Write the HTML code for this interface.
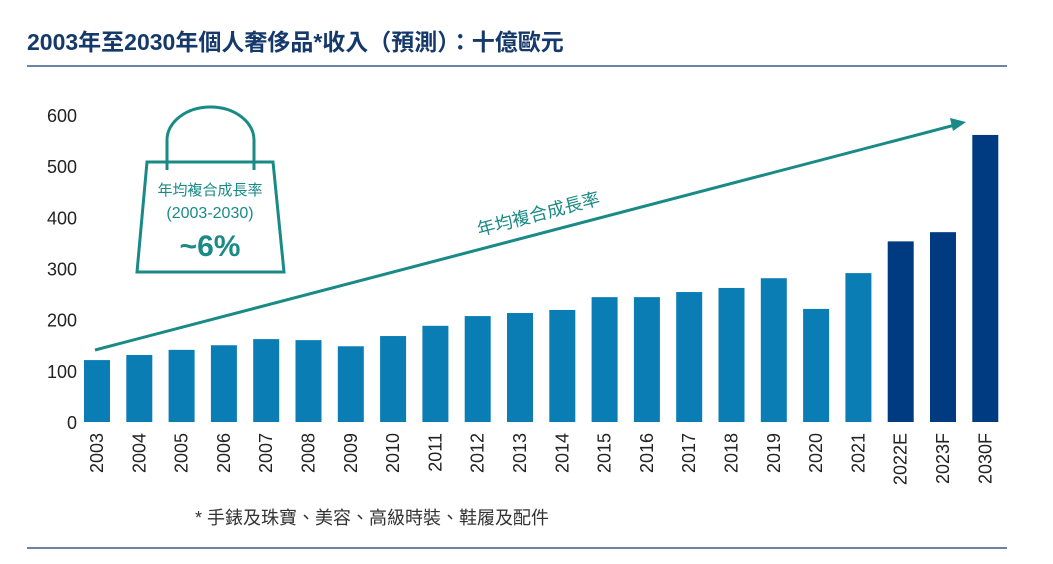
<!DOCTYPE html>
<html><head><meta charset="utf-8"><style>
body{margin:0;background:#fff;width:1053px;height:559px;overflow:hidden;font-family:"Liberation Sans","Noto Sans CJK TC",sans-serif}
</style></head><body>
<svg width="1053" height="559" font-family="Liberation Sans, Noto Sans CJK TC, sans-serif">
<text x="27" y="50" font-size="23" font-weight="bold" fill="#15396b">2003年至2030年個人奢侈品*收入（預測）：十億歐元</text>
<line x1="27" y1="66" x2="1007" y2="66" stroke="#15396b" stroke-width="1.2"/>
<line x1="27" y1="548" x2="1007" y2="548" stroke="#15396b" stroke-width="1.2"/>
<g id="yaxis"></g><g id="bars"></g><g id="xaxis"></g>
<g stroke="#1a8a86" stroke-width="3" fill="none">
<path d="M167 170 V140 A43.5 33 0 0 1 254 140 V170"/>
<path d="M147 162 H273 L284 272 H137 Z"/>
</g>
<text x="210" y="195" text-anchor="middle" font-size="15" fill="#1a8a86">年均複合成長率</text>
<text x="210" y="218" text-anchor="middle" font-size="16" fill="#1a8a86">(2003-2030)</text>
<text x="210" y="256" text-anchor="middle" font-size="30" font-weight="bold" fill="#1a8a86">~6%</text>
<line x1="95" y1="350" x2="955" y2="125" stroke="#1a8a86" stroke-width="3"/>
<polygon points="966,122 950,118 953,131" fill="#1a8a86"/>
<text x="0" y="0" transform="translate(540,220) rotate(-14.7)" text-anchor="middle" font-size="18" fill="#1a8a86">年均複合成長率</text>
<text x="195" y="524" font-size="18" fill="#333">* 手錶及珠寶、美容、高級時裝、鞋履及配件</text>
</svg>
<script>
const categories=["2003","2004","2005","2006","2007","2008","2009","2010","2011","2012","2013","2014","2015","2016","2017","2018","2019","2020","2021","2022E","2023F","2030F"];
const values=[121,131,141,150,162,160,148,168,188,207,213,219,244,244,254,262,281,221,291,353,371,561];
const forecast=[false,false,false,false,false,false,false,false,false,false,false,false,false,false,false,false,false,false,false,true,true,true];
const yTicks=[0,100,200,300,400,500,600];
const NS="http://www.w3.org/2000/svg";
const y0=422,yTop=115,yMax=600;
function y(v){return y0-(v/yMax)*(y0-yTop);}
function x(i){return 97+i*42.3;}
const gy=document.getElementById('yaxis'),gb=document.getElementById('bars'),gx=document.getElementById('xaxis');
yTicks.forEach(t=>{const e=document.createElementNS(NS,'text');


e.setAttribute('x',77);e.setAttribute('y',y(t)+7);e.setAttribute('text-anchor','end');e.setAttribute('font-size','18');e.setAttribute('fill','#222');e.textContent=t;gy.appendChild(e);});
values.forEach((v,i)=>{const r=document.createElementNS(NS,'rect');


r.setAttribute('x',x(i)-13);r.setAttribute('width',26);r.setAttribute('y',y(v));r.setAttribute('height',y0-y(v));r.setAttribute('fill',forecast[i]?'#003a80':'#0a7db5');gb.appendChild(r);
const t=document.createElementNS(NS,'text');


t.setAttribute('transform','translate('+(x(i)+6)+',433) rotate(-90)');t.setAttribute('text-anchor','end');t.setAttribute('font-size','18');t.setAttribute('fill','#222');t.textContent=categories[i];gx.appendChild(t);});
</script>
</body></html>
